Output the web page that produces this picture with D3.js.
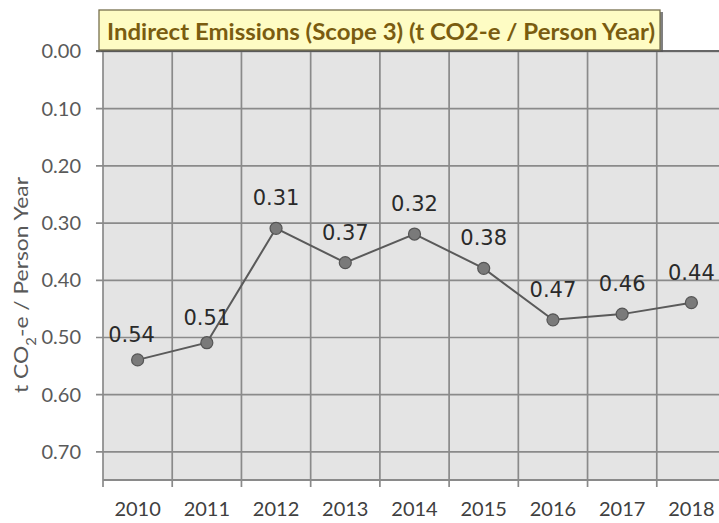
<!DOCTYPE html>
<html>
<head>
<meta charset="utf-8">
<script src="https://cdnjs.cloudflare.com/ajax/libs/d3/7.8.5/d3.min.js"></script>
<style>
  html, body { margin: 0; padding: 0; background: #fff; }
  svg { display: block; }
</style>
</head>
<body>
<svg id="chart" width="719" height="523"></svg>
<script>
// ---- data ----
const years = ["2010", "2011", "2012", "2013", "2014", "2015", "2016", "2017", "2018"];
const values = [0.54, 0.51, 0.31, 0.37, 0.32, 0.38, 0.47, 0.46, 0.44];
const yTicks = [0.00, 0.10, 0.20, 0.30, 0.40, 0.50, 0.60, 0.70];
const titleText = "Indirect Emissions (Scope 3) (t CO2-e / Person Year)";

// ---- layout ----
const W = 719, H = 523;
const plot = { left: 103, top: 51, right: 726, bottom: 480 };
const labelDy = [-18, -18, -23, -23, -23, -23, -23, -23, -23];
const labelDx = [-6, 0, 0, 0, 0, 0, 0, 0, 0];

const svg = d3.select("#chart");

const x = d3.scaleBand().domain(years).range([plot.left, plot.right]).padding(0);
const y = d3.scaleLinear().domain([0, 0.75]).range([plot.top, plot.bottom]);

// plot background
svg.append("rect")
  .attr("x", plot.left).attr("y", plot.top)
  .attr("width", plot.right - plot.left).attr("height", plot.bottom - plot.top)
  .attr("fill", "#e4e4e4");

// horizontal grid + left ticks
const yAxis = d3.axisLeft(y).tickValues(yTicks).tickSize(plot.right - plot.left + 7)
  .tickFormat(d3.format(".2f"));
const gy = svg.append("g").attr("transform", `translate(${plot.right},0)`).call(yAxis);
gy.select(".domain").remove();
gy.selectAll(".tick line").attr("stroke", "#8a8a8a").attr("stroke-width", 1.7);
gy.selectAll(".tick text")
  .attr("fill", "#5a5a5a").style("font-family", "Lato, 'Open Sans', sans-serif")
  .style("font-size", "20px").attr("dy", "0.34em")
  .attr("x", -(plot.right - plot.left) - 22);

// vertical grid lines at category boundaries
const bounds = years.map(d => x(d)).concat([x(years[years.length - 1]) + x.bandwidth()]);
svg.append("g").selectAll("line").data(bounds).join("line")
  .attr("x1", d => d).attr("x2", d => d)
  .attr("y1", plot.top).attr("y2", plot.bottom + 7)
  .attr("stroke", "#8a8a8a").attr("stroke-width", 1.7);

// bottom axis line
svg.append("line")
  .attr("x1", plot.left).attr("x2", plot.right)
  .attr("y1", plot.bottom).attr("y2", plot.bottom)
  .attr("stroke", "#8a8a8a").attr("stroke-width", 1.9);

// top axis line (0.00)
svg.append("line")
  .attr("x1", plot.left - 7).attr("x2", plot.right)
  .attr("y1", y(0)).attr("y2", y(0))
  .attr("stroke", "#666").attr("stroke-width", 2.2);

// x-axis labels
const xAxis = d3.axisBottom(x).tickSize(0).tickPadding(0);
const gx = svg.append("g").attr("transform", `translate(0,${plot.bottom})`).call(xAxis);
gx.select(".domain").remove();
gx.selectAll(".tick text")
  .attr("fill", "#404040").style("font-family", "Lato, 'Open Sans', sans-serif")
  .style("font-size", "20px").attr("y", 36).attr("dy", 0);

// y-axis title
const yt = svg.append("text")
  .attr("transform", `translate(28,285) rotate(-90)`)
  .attr("text-anchor", "middle")
  .attr("fill", "#595959")
  .style("font-family", "Lato, 'Open Sans', sans-serif")
  .style("font-size", "20px")
  .attr("textLength", 216).attr("lengthAdjust", "spacingAndGlyphs");
yt.append("tspan").text("t CO");
yt.append("tspan").text("2").attr("baseline-shift", "sub").style("font-size", "13px");
yt.append("tspan").text("-e  / Person Year");

// line
const pts = years.map((d, i) => ({ year: d, v: values[i], i }));
const line = d3.line().x(d => x(d.year) + x.bandwidth() / 2).y(d => y(d.v));
svg.append("path").datum(pts)
  .attr("d", line).attr("fill", "none")
  .attr("stroke", "#5a5a5a").attr("stroke-width", 2);

// markers
svg.append("g").selectAll("circle").data(pts).join("circle")
  .attr("cx", d => x(d.year) + x.bandwidth() / 2)
  .attr("cy", d => y(d.v))
  .attr("r", 6)
  .attr("fill", "#7a7a7a").attr("stroke", "#555").attr("stroke-width", 1.2);

// data labels
svg.append("g").selectAll("text").data(pts).join("text")
  .attr("x", d => x(d.year) + x.bandwidth() / 2 + labelDx[d.i])
  .attr("y", d => y(d.v) + labelDy[d.i])
  .attr("text-anchor", "middle")
  .attr("fill", "#2a2a2a")
  .style("font-family", "'DejaVu Sans', sans-serif")
  .style("font-size", "21px")
  .text(d => d3.format(".2f")(d.v));

// title box
svg.append("rect")
  .attr("x", 101).attr("y", 12).attr("width", 562).attr("height", 40)
  .attr("fill", "#555").attr("opacity", 0.75);
svg.append("rect")
  .attr("x", 99).attr("y", 10).attr("width", 561).attr("height", 40)
  .attr("fill", "#fefcc4").attr("stroke", "#77704f").attr("stroke-width", 1.3);
svg.append("text")
  .attr("x", 107).attr("y", 40)
  .attr("fill", "#7a5c10")
  .style("font-family", "Lato, 'Open Sans', sans-serif")
  .style("font-size", "23px").style("font-weight", "bold")
  .attr("textLength", 548).attr("lengthAdjust", "spacingAndGlyphs")
  .text(titleText);
</script>
</body>
</html>
